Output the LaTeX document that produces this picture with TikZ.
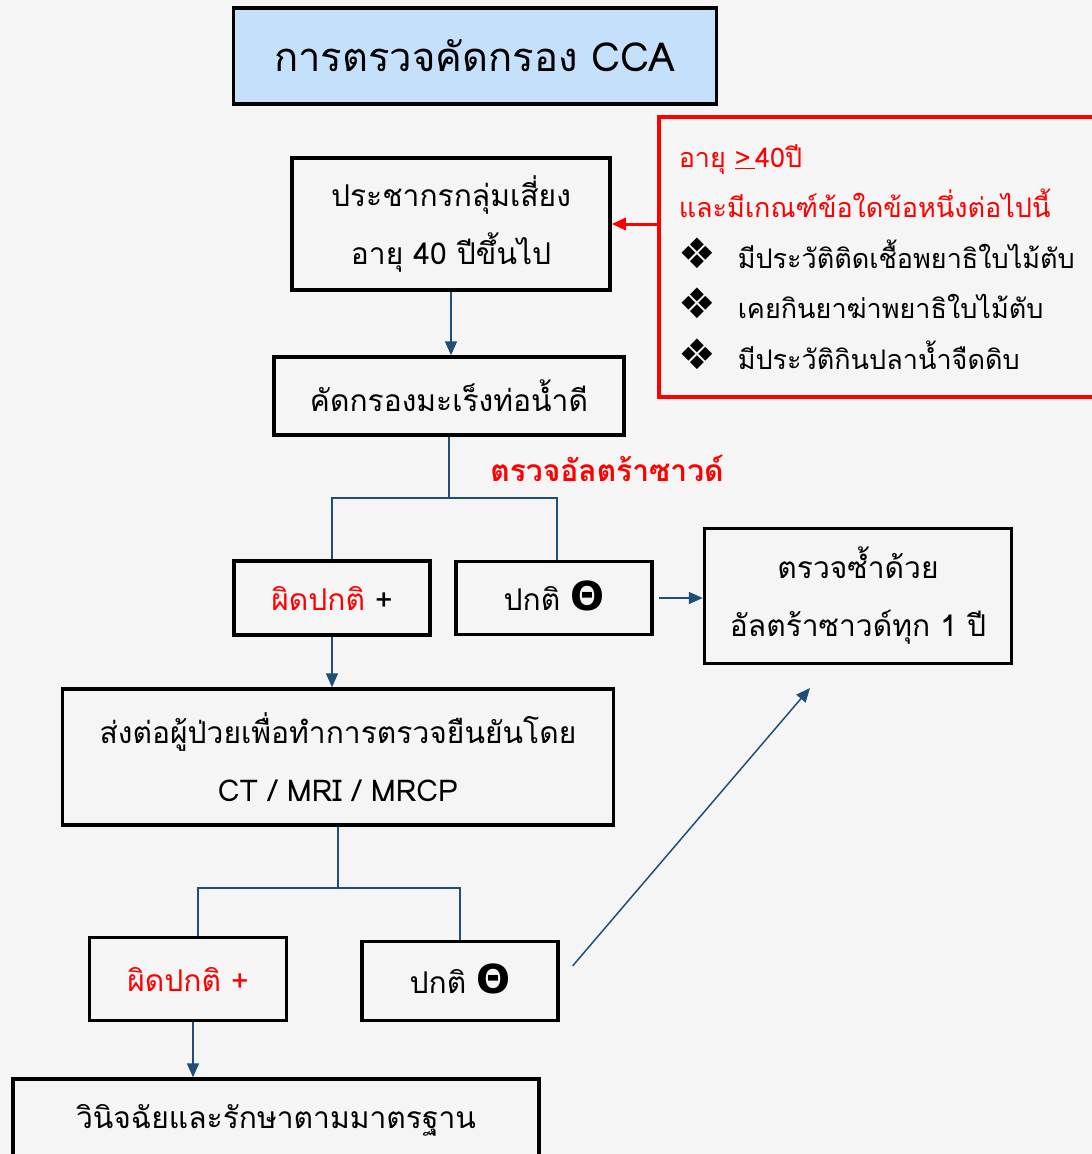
\documentclass[tikz,border=0pt]{standalone}
\usepackage{fontspec}
\setmainfont[Script=Thai]{Loma}
\newfontfamily\symfont{DejaVu Sans}
\usetikzlibrary{shapes,arrows.meta,positioning,calc}

\definecolor{lineblue}{HTML}{1F4E79}
\definecolor{titleblue}{HTML}{C5E0FA}
\definecolor{bggray}{HTML}{F5F5F5}
\definecolor{alertred}{HTML}{FF0000}

\newcommand{\negsign}{\smash{\symfont\bfseries\fontsize{40}{40}\selectfont Θ}}
\newcommand{\riskbullet}{\makebox[59pt][l]{\smash{\symfont\fontsize{42}{42}\selectfont ❖}}}

\tikzset{
  box/.style={draw, line width=3.5pt, rectangle, align=center, inner sep=0pt,
    font=\fontsize{30}{58}\selectfont},
  conn/.style={draw=lineblue, line width=1.5pt},
  arr/.style={conn, -{Triangle[length=14pt,width=12pt]}},
}

\begin{document}
\begin{tikzpicture}[x=1pt, y=-1pt]

% Page and background
\useasboundingbox (0,0) rectangle (1092,1154);
\fill[bggray] (0,0) rectangle (1092,1154);

% Title
\node[box, fill=titleblue, minimum width=483pt, minimum height=96pt,
  font=\fontsize{40}{40}\selectfont] (title) at (475,56) {การตรวจคัดกรอง CCA};

% Risk group
\node[box, minimum width=318pt, minimum height=132pt] (pop) at (451,224)
  {ประชากรกลุ่มเสี่ยง\\อายุ 40 ปีขึ้นไป};

% Risk criteria
\node[draw=alertred, line width=3.5pt, rectangle, anchor=north west,
  minimum width=450pt, minimum height=280pt, text width=410pt, align=left,
  inner xsep=20pt, inner ysep=0pt, font=\fontsize{27}{50.5}\selectfont] (risk) at (657,115) {
\textcolor{alertred}{อายุ \underline{>\,}40ปี}\\
\textcolor{alertred}{และมีเกณฑ์ข้อใดข้อหนึ่งต่อไปนี้}\\
\riskbullet มีประวัติติดเชื้อพยาธิใบไม้ตับ\\
\riskbullet เคยกินยาฆ่าพยาธิใบไม้ตับ\\
\riskbullet มีประวัติกินปลาน้ำจืดดิบ
};

% Screening
\node[box, minimum width=350pt, minimum height=78pt] (screen) at (449,396)
  {คัดกรองมะเร็งท่อน้ำดี};
\node[text=alertred, font=\fontsize{30}{30}\selectfont\bfseries] (uslabel) at (607,468)
  {ตรวจอัลตร้าซาวด์};

% Ultrasound results
\node[box, minimum width=196pt, minimum height=74pt] (abn1) at (332,598)
  {\textcolor{alertred}{ผิดปกติ} +};
\node[box, minimum width=196pt, minimum height=73pt] (norm1) at (554,598)
  {ปกติ \negsign};
\node[box, minimum width=307pt, minimum height=135pt] (recheck) at (858,596)
  {ตรวจซ้ำด้วย\\อัลตร้าซาวด์ทุก 1 ปี};

% Confirmation
\node[box, minimum width=551pt, minimum height=136pt] (refer) at (338,757)
  {ส่งต่อผู้ป่วยเพื่อทำการตรวจยืนยันโดย\\CT / MRI / MRCP};

% Confirmation results
\node[box, minimum width=197pt, minimum height=83pt] (abn2) at (188,979)
  {\textcolor{alertred}{ผิดปกติ +}};
\node[box, minimum width=196pt, minimum height=79pt] (norm2) at (460,981)
  {ปกติ \negsign};
\node[box, minimum width=526pt, minimum height=82pt] (treat) at (276,1120)
  {วินิจฉัยและรักษาตามมาตรฐาน};

% Connectors
\draw[draw=alertred, line width=3pt, -{Triangle[length=14pt,width=12pt]}]
  (risk.west |- pop.east) -- (pop.east);
\draw[arr] (pop.south) -- (pop.south |- screen.north);
\draw[conn] (screen.south) -- ++(0,61) coordinate (split1);
\draw[conn] (abn1.north) |- (split1) -| ([xshift=3pt]norm1.north);
\draw[arr, shorten <=5pt] (norm1.east) -- (norm1.east -| recheck.west);
\draw[arr] (abn1.south) -- (abn1.south |- refer.north);
\draw[conn] (refer.south) -- ++(0,61) coordinate (split2);
\draw[conn] ([xshift=10pt]abn2.north) |- (split2) -| (norm2.north);
\draw[arr] ([xshift=5pt]abn2.south) -- ([xshift=5pt]abn2.south |- treat.north);
\coordinate (back) at (810,688);
\draw[arr, shorten <=20pt] (norm2.east) -- (back);

\end{tikzpicture}
\end{document}
